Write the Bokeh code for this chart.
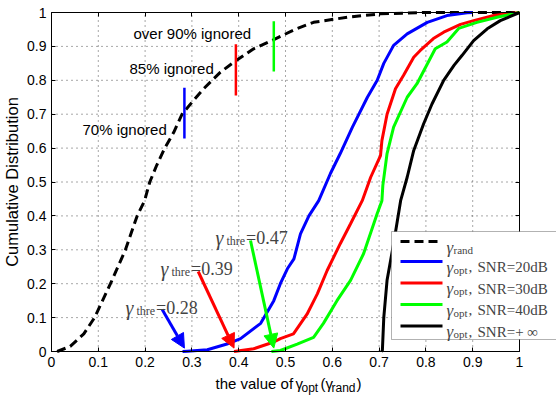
from bokeh.plotting import figure
from bokeh.models import (Range1d, FixedTicker, CustomJSTickFormatter, LinearAxis,
                          Label, Arrow, NormalHead, BoxAnnotation)
from bokeh.embed import file_html
from bokeh.resources import INLINE

# ---------------- data ----------------
tick_vals = [0, 0.1, 0.2, 0.3, 0.4, 0.5, 0.6, 0.7, 0.8, 0.9, 1.0]

rand_x = [0.012, 0.04, 0.069, 0.092, 0.126, 0.158, 0.183, 0.199, 0.21, 0.225, 0.242, 0.261,
          0.279, 0.3, 0.325, 0.361, 0.389, 0.432, 0.475, 0.52, 0.56, 0.632, 0.703, 0.8, 1.0]
rand_y = [0.0, 0.015, 0.052, 0.1, 0.2, 0.3, 0.4, 0.445, 0.5, 0.55, 0.6, 0.646,
          0.70, 0.735, 0.775, 0.824, 0.853, 0.893, 0.92, 0.95, 0.971, 0.986, 0.996, 1.0, 1.0]

snr20_x = [0.28, 0.29, 0.333, 0.375, 0.404, 0.447, 0.475, 0.489, 0.504, 0.518, 0.532, 0.55,
           0.571, 0.596, 0.617, 0.643, 0.675, 0.696, 0.71, 0.731, 0.76, 0.803, 0.845, 0.888, 0.9]
snr20_y = [0.0, 0.001, 0.005, 0.022, 0.038, 0.083, 0.15, 0.2, 0.244, 0.273, 0.347, 0.40,
           0.445, 0.525, 0.584, 0.662, 0.75, 0.8, 0.85, 0.903, 0.937, 0.971, 0.991, 0.999, 1.0]

snr30_x = [0.39, 0.432, 0.475, 0.489, 0.517, 0.546, 0.568, 0.589, 0.617, 0.639, 0.664, 0.682,
           0.703, 0.706, 0.717, 0.735, 0.752, 0.774, 0.788, 0.816, 0.838, 0.874, 0.902, 0.945, 1.0]
snr30_y = [0.0, 0.008, 0.028, 0.038, 0.052, 0.11, 0.17, 0.239, 0.318, 0.377, 0.445, 0.514,
           0.578, 0.622, 0.70, 0.775, 0.814, 0.868, 0.888, 0.923, 0.942, 0.965, 0.976, 0.991, 1.0]

snr40_x = [0.47, 0.489, 0.525, 0.56, 0.581, 0.61, 0.639, 0.667, 0.696, 0.706, 0.708, 0.717,
           0.731, 0.76, 0.781, 0.803, 0.82, 0.845, 0.87, 0.909, 0.952, 1.0]
snr40_y = [0.0, 0.003, 0.022, 0.042, 0.083, 0.15, 0.21, 0.289, 0.407, 0.445, 0.49, 0.584,
           0.662, 0.75, 0.79, 0.848, 0.893, 0.913, 0.953, 0.971, 0.986, 1.0]

snrinf_x = [0.705, 0.707, 0.71, 0.717, 0.731, 0.746, 0.76, 0.774, 0.795, 0.813, 0.838, 0.86,
            0.877, 0.902, 0.931, 0.959, 1.0]
snrinf_y = [0.0, 0.003, 0.1, 0.21, 0.318, 0.445, 0.514, 0.593, 0.671, 0.73, 0.80, 0.844,
            0.873, 0.917, 0.952, 0.976, 1.0]

thresholds = ["0.28", "0.39", "0.47"]
arrow_tip_x = [0.284, 0.390, 0.475]
marker_x = [0.284, 0.394, 0.475]
marker_lo = [0.628, 0.755, 0.826]
marker_hi = [0.778, 0.906, 0.974]
ignored_labels = ["70% ignored", "85% ignored", "over 90% ignored"]
colors = ["#0000ff", "#ff0000", "#00ff00"]
legend_snr = ["SNR=20dB", "SNR=30dB", "SNR=40dB", "SNR=+ \u221e"]

# ---------------- layout helpers ----------------
W, H = 556, 396
FL, FR, FT, FB = 51, 519, 12, 351      # edges of the [0,1]x[0,1] box in canvas px


def X(px):
    return (px - FL) / (FR - FL)


def Y(py):
    return (FB - py) / (FB - FT)


SANS = "Liberation Sans"
SERIF = "Liberation Serif"

# the frame covers the whole canvas; axes are pinned at the data box edges
p = figure(width=W, height=H, x_range=Range1d(X(0), X(W)), y_range=Range1d(Y(H), Y(0)),
           output_backend="svg", toolbar_location=None,
           min_border_left=0, min_border_right=0, min_border_top=0, min_border_bottom=0)
p.background_fill_color = "white"
p.border_fill_color = "white"
p.outline_line_color = None

fmt = CustomJSTickFormatter(code="return Number(tick.toFixed(1)).toString();")
for ax in [p.xaxis[0], p.yaxis[0]]:
    ax.fixed_location = 0
    ax.bounds = (0, 1)
    ax.ticker = FixedTicker(ticks=tick_vals)
    ax.formatter = fmt
    ax.major_tick_in = 4
    ax.major_tick_out = 0
    ax.minor_tick_line_color = None
    ax.axis_line_color = "black"
    ax.major_tick_line_color = "black"
    ax.major_label_text_font = SANS
    ax.major_label_text_font_size = "14px"
    ax.major_label_text_color = "black"
    ax.major_label_standoff = 5

p.yaxis.axis_label = "Cumulative Distribution"
p.yaxis.axis_label_text_font = SANS
p.yaxis.axis_label_text_font_size = "16.5px"
p.yaxis.axis_label_text_font_style = "normal"
p.yaxis.axis_label_text_color = "black"
p.yaxis.axis_label_standoff = 3

for loc in ["right", "above"]:
    ax = LinearAxis(ticker=FixedTicker(ticks=tick_vals), fixed_location=1, bounds=(0, 1),
                    major_label_text_color=None, major_label_standoff=0,
                    major_tick_in=4, major_tick_out=0,
                    minor_tick_line_color=None, axis_line_color="black",
                    major_tick_line_color="black")
    p.add_layout(ax, loc)

# dotted grid restricted to the data box
p.xgrid.visible = False
p.ygrid.visible = False
grid_lo = [0] * len(tick_vals)
grid_hi = [1] * len(tick_vals)
p.segment(x0=tick_vals, y0=grid_lo, x1=tick_vals, y1=grid_hi, line_color="#333333",
          line_alpha=0.85, line_width=1, line_dash="1 4")
p.segment(x0=grid_lo, y0=tick_vals, x1=grid_hi, y1=tick_vals, line_color="#333333",
          line_alpha=0.85, line_width=1, line_dash="1 4")

# ---------------- curves ----------------
p.line(rand_x, rand_y, line_color="black", line_width=3, line_dash="9 5")
p.line(snr20_x, snr20_y, line_color=colors[0], line_width=3)
p.line(snr30_x, snr30_y, line_color=colors[1], line_width=3)
p.line(snr40_x, snr40_y, line_color=colors[2], line_width=3)
p.line(snrinf_x, snrinf_y, line_color="black", line_width=3)

p.segment(x0=marker_x, y0=marker_lo, x1=marker_x, y1=marker_hi,
          line_color=colors, line_width=2.5)

# ---------------- "ignored" annotations ----------------
ign_pos = [(82, 129.3), (129, 67.7), (133, 33.3)]
for s, (px, py) in zip(ignored_labels, ign_pos):
    p.add_layout(Label(x=X(px), y=Y(py), text=s, text_font=SANS, text_font_size="15px",
                       text_color="black", text_align="left", text_baseline="alphabetic"))

# ---------------- gamma_thre arrows ----------------
arrow_tails = [(161.7, 309), (197.7, 271), (250, 240)]
for c, tip, (tx, ty) in zip(colors, arrow_tip_x, arrow_tails):
    p.add_layout(Arrow(end=NormalHead(size=14, fill_color=c, line_color=c, line_width=1),
                       x_start=X(tx), y_start=Y(ty), x_end=tip, y_end=0.01,
                       line_color=c, line_width=3))

gam_pos = [(125, 307), (160, 268), (215, 237)]
for s, (gx, gy) in zip(thresholds, gam_pos):
    p.add_layout(Label(x=X(gx), y=Y(gy), text="\u03b3", text_font=SERIF, text_font_size="20px",
                       text_font_style="italic", text_baseline="alphabetic"))
    p.add_layout(Label(x=X(gx + 11), y=Y(gy + 3), text="thre", text_font=SERIF,
                       text_font_size="12px", text_baseline="alphabetic"))
    p.add_layout(Label(x=X(gx + 30.5), y=Y(gy), text="=" + s, text_font=SERIF,
                       text_font_size="18px", text_baseline="alphabetic"))

# ---------------- legend ----------------
p.add_layout(BoxAnnotation(left=X(391), right=X(W + 20), top=Y(231), bottom=Y(339),
                           fill_color="white", fill_alpha=1.0, line_color="black",
                           line_width=1, line_dash="solid"))
rows = [241, 261, 282.5, 304, 325.5]
leg_colors = ["black"] + colors + ["black"]
leg_dash = ["9 5", "solid", "solid", "solid", "solid"]
for ry, c, d in zip(rows, leg_colors, leg_dash):
    p.add_layout(Arrow(end=None, start=None, x_start=X(400), y_start=Y(ry), x_end=X(442),
                       y_end=Y(ry), line_color=c, line_width=3, line_dash=d))
subs = ["rand", "opt", "opt", "opt", "opt"]
for i, (ry, sub) in enumerate(zip(rows, subs)):
    p.add_layout(Label(x=X(446), y=Y(ry + 5.5), text="\u03b3", text_font=SERIF,
                       text_font_size="17px", text_font_style="italic",
                       text_baseline="alphabetic"))
    p.add_layout(Label(x=X(453), y=Y(ry + 8), text=sub, text_font=SERIF,
                       text_font_size="11px", text_baseline="alphabetic"))
    if i > 0:
        p.add_layout(Label(x=X(468), y=Y(ry + 5.5), text=",", text_font=SERIF,
                           text_font_size="15px", text_baseline="alphabetic"))
        p.add_layout(Label(x=X(477), y=Y(ry + 5.5), text=legend_snr[i - 1], text_font=SERIF,
                           text_font_size="15px", text_baseline="alphabetic"))

# ---------------- x axis label (with subscripts) ----------------
xl_parts = [(215, 383, "the value of ", "15px"), (295, 383, "\u03b3", "15px"),
            (301, 387.5, "opt", "12px"), (320, 383, "(", "15px"),
            (325, 383, "\u03b3", "15px"), (331, 387.5, "rand", "12px"),
            (356, 383, ")", "15px")]
for px, py, s, fs in xl_parts:
    p.add_layout(Label(x=X(px), y=Y(py), text=s, text_font=SANS, text_font_size=fs,
                       text_color="black", text_baseline="alphabetic"))

open("out.html", "w").write(file_html(p, INLINE))
